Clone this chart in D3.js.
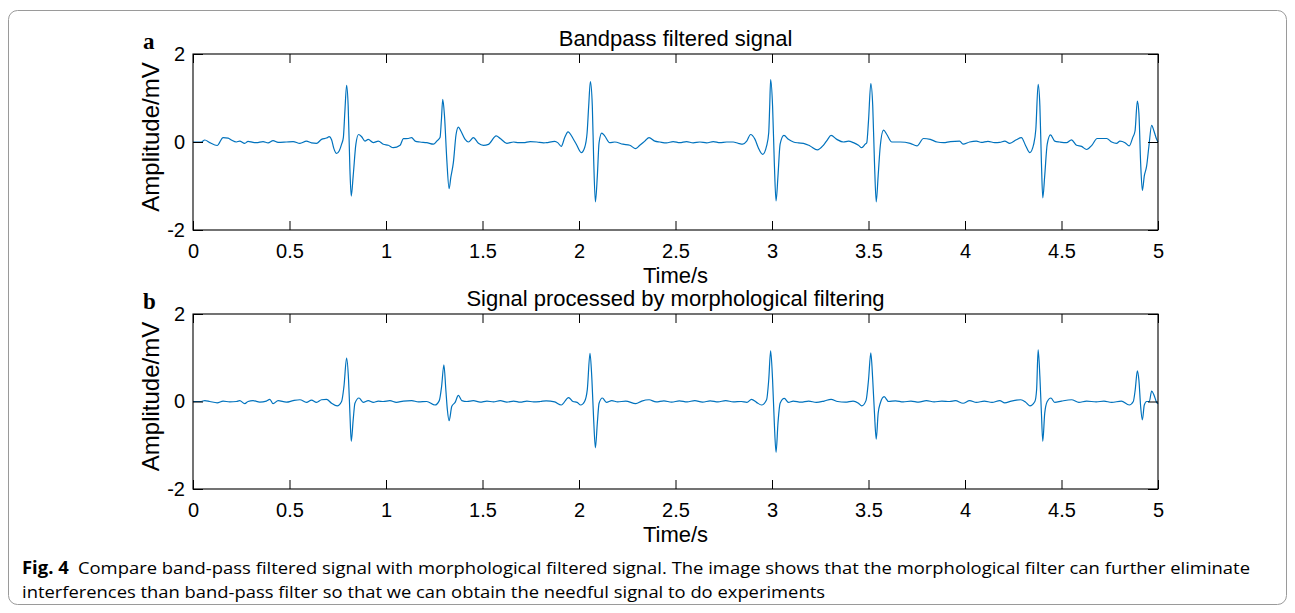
<!DOCTYPE html>
<html>
<head>
<meta charset="utf-8">
<script src="https://cdn.jsdelivr.net/npm/d3@7"></script>
<style>
  body { margin: 0; background: #fff; }
  svg { display: block; }
</style>
</head>
<body>
<svg id="fig" width="1295" height="613"></svg>
<script>
// tick values shared by both panels
const timeTicks = [0, 0.5, 1, 1.5, 2, 2.5, 3, 3.5, 4, 4.5, 5];
const ampTicks = [-2, 0, 2];

// [time s, amplitude mV]
const bandpassSignal = [
  [0.000, 0], [0.043, 0], [0.061, 0.045], [0.087, -0.015], [0.125, -0.08], [0.156, 0.10],
  [0.182, 0.09], [0.199, 0.045], [0.225, 0], [0.242, 0.02], [0.268, -0.03], [0.285, 0.015],
  [0.311, -0.01], [0.329, -0.015], [0.363, 0.01], [0.389, -0.02], [0.415, 0.03], [0.441, -0.01],
  [0.484, 0], [0.519, 0.01], [0.554, -0.03], [0.588, 0.02], [0.614, -0.02], [0.640, -0.03],
  [0.666, 0.06], [0.692, 0.09], [0.706, 0.12], [0.718, 0.05], [0.730, -0.15], [0.744, -0.26],
  [0.758, -0.20], [0.770, -0.05], [0.779, 0.10], [0.787, 0.70], [0.796, 1.29], [0.804, 0.82],
  [0.813, -0.62], [0.820, -1.23], [0.830, -0.77], [0.844, -0.05], [0.858, 0.17], [0.874, 0.12],
  [0.891, 0.02], [0.908, 0.06], [0.934, -0.015], [0.960, 0.02], [0.986, -0.05], [1.012, -0.075],
  [1.038, -0.13], [1.073, -0.075], [1.090, 0.075], [1.116, 0.08], [1.133, 0.10], [1.151, 0.02],
  [1.176, 0], [1.211, -0.015], [1.246, -0.05], [1.263, 0.02], [1.280, 0.10], [1.287, 0.50],
  [1.294, 0.97], [1.303, 0.60], [1.315, -0.40], [1.327, -1.06], [1.336, -0.80], [1.349, -0.47],
  [1.363, 0.17], [1.375, 0.34], [1.388, 0.25], [1.410, 0.06], [1.427, 0], [1.453, 0.10],
  [1.479, -0.03], [1.505, -0.075], [1.531, -0.055], [1.571, 0.14], [1.592, 0.08], [1.626, -0.03],
  [1.661, 0], [1.687, -0.015], [1.713, -0.015], [1.747, 0.01], [1.782, 0], [1.817, -0.02],
  [1.830, -0.015], [1.874, 0.015], [1.891, -0.02], [1.908, -0.10], [1.926, 0.10], [1.943, 0.23],
  [1.969, 0.08], [1.986, -0.05], [2.012, -0.24], [2.029, -0.13], [2.042, 0.21], [2.050, 0.80],
  [2.059, 1.37], [2.069, 0.82], [2.076, -0.39], [2.085, -1.36], [2.095, -0.77], [2.104, -0.015],
  [2.118, 0.20], [2.133, 0.14], [2.159, -0.015], [2.185, 0], [2.228, -0.05], [2.263, -0.075],
  [2.294, -0.15], [2.315, -0.075], [2.341, 0.02], [2.363, 0.10], [2.393, 0.02], [2.419, 0],
  [2.453, -0.02], [2.488, 0.01], [2.522, -0.015], [2.557, 0.01], [2.592, -0.02], [2.626, 0],
  [2.661, -0.02], [2.696, 0.01], [2.730, -0.015], [2.765, 0], [2.799, 0], [2.825, -0.03],
  [2.848, -0.05], [2.869, 0.02], [2.889, 0.17], [2.912, 0.06], [2.929, -0.13], [2.952, -0.28],
  [2.972, -0.09], [2.983, 0.21], [2.988, 0.80], [2.993, 1.42], [3.003, 0.82], [3.012, -0.47],
  [3.021, -1.34], [3.031, -0.77], [3.042, -0.05], [3.062, 0.15], [3.085, 0.06], [3.111, 0],
  [3.137, -0.02], [3.163, -0.03], [3.197, -0.09], [3.235, -0.18], [3.266, -0.075], [3.287, 0.05],
  [3.306, 0.15], [3.336, 0.06], [3.370, 0], [3.396, 0.02], [3.422, -0.015], [3.448, -0.075],
  [3.465, -0.13], [3.483, -0.05], [3.491, -0.015], [3.500, 0.48], [3.512, 1.33], [3.522, 0.82],
  [3.531, -0.47], [3.540, -1.36], [3.550, -0.77], [3.561, -0.09], [3.578, 0.27], [3.595, 0.17],
  [3.621, 0], [3.664, 0], [3.716, -0.03], [3.751, -0.09], [3.785, 0.08], [3.820, 0.06],
  [3.855, 0], [3.889, -0.015], [3.924, 0.01], [3.972, 0.02], [3.990, -0.05], [4.024, 0],
  [4.059, 0.02], [4.085, -0.01], [4.119, 0.015], [4.154, -0.015], [4.180, -0.01], [4.206, 0.02],
  [4.232, -0.03], [4.266, 0.05], [4.292, 0.10], [4.315, -0.09], [4.336, -0.24], [4.356, -0.05],
  [4.367, 0.29], [4.379, 1.31], [4.388, 0.82], [4.396, -0.47], [4.403, -1.27], [4.413, -0.77],
  [4.426, -0.05], [4.443, 0.16], [4.465, 0.02], [4.491, 0], [4.526, -0.015], [4.552, 0.05],
  [4.578, -0.075], [4.604, -0.10], [4.630, -0.17], [4.657, -0.075], [4.685, 0.08], [4.734, 0.08],
  [4.760, 0], [4.785, -0.03], [4.803, 0.02], [4.829, -0.015], [4.851, -0.09], [4.869, 0.10],
  [4.881, 0.25], [4.893, 0.93], [4.901, 0.66], [4.910, -0.47], [4.919, -1.10], [4.929, -0.77],
  [4.941, -0.55], [4.953, -0.09], [4.967, 0.38], [4.979, 0.25], [4.993, 0.06], [5.000, 0]
];

// [time s, amplitude mV]
const morphSignal = [
  [0.000, 0], [0.043, 0], [0.061, 0.02], [0.087, 0], [0.125, -0.03], [0.156, 0.01],
  [0.190, -0.01], [0.225, 0], [0.242, 0.02], [0.268, -0.05], [0.285, 0], [0.311, 0.02],
  [0.346, -0.015], [0.380, 0.01], [0.398, 0.05], [0.415, -0.05], [0.441, 0.02], [0.484, -0.015],
  [0.519, 0.02], [0.554, 0.04], [0.588, -0.02], [0.614, 0.03], [0.640, -0.02], [0.666, 0.04],
  [0.692, 0.05], [0.718, -0.04], [0.747, -0.10], [0.770, 0], [0.782, 0.34], [0.796, 0.99],
  [0.806, 0.49], [0.813, -0.27], [0.820, -0.91], [0.830, -0.42], [0.839, -0.04], [0.860, 0.08],
  [0.882, -0.02], [0.908, 0.02], [0.934, -0.02], [0.960, 0.01], [0.986, 0], [1.020, 0.02],
  [1.054, -0.02], [1.090, 0.01], [1.133, 0.02], [1.168, -0.01], [1.211, 0], [1.254, -0.08],
  [1.276, 0.02], [1.288, 0.34], [1.300, 0.84], [1.310, 0.27], [1.318, -0.19], [1.327, -0.44],
  [1.341, -0.11], [1.358, -0.02], [1.375, 0.14], [1.393, 0.02], [1.419, 0], [1.453, 0.02],
  [1.488, -0.015], [1.523, 0.01], [1.557, -0.01], [1.592, 0.02], [1.626, -0.015], [1.661, 0.01],
  [1.696, -0.015], [1.730, 0.01], [1.765, -0.01], [1.800, 0], [1.830, 0.015], [1.874, -0.01],
  [1.908, -0.08], [1.946, 0.09], [1.969, 0], [1.990, -0.02], [2.009, -0.08], [2.029, 0],
  [2.043, 0.27], [2.057, 1.10], [2.067, 0.49], [2.076, -0.42], [2.085, -1.06], [2.095, -0.49],
  [2.104, -0.04], [2.121, 0.08], [2.142, -0.02], [2.170, 0.02], [2.200, -0.01], [2.242, 0.01],
  [2.294, -0.05], [2.325, 0.01], [2.363, 0.04], [2.400, -0.01], [2.440, 0.015], [2.480, -0.015],
  [2.520, 0.015], [2.560, -0.01], [2.600, 0.02], [2.640, -0.015], [2.680, 0.015], [2.720, -0.01],
  [2.760, 0.02], [2.800, -0.01], [2.840, 0], [2.870, -0.02], [2.894, 0.05], [2.920, -0.02],
  [2.946, -0.08], [2.972, 0.04], [2.983, 0.49], [2.993, 1.16], [3.003, 0.49], [3.012, -0.49],
  [3.021, -1.16], [3.031, -0.49], [3.042, -0.04], [3.064, 0.07], [3.085, -0.02], [3.110, 0.01],
  [3.150, -0.015], [3.190, 0.01], [3.230, -0.02], [3.270, 0.01], [3.306, 0.05], [3.340, 0],
  [3.380, -0.015], [3.420, 0.01], [3.448, -0.04], [3.465, -0.10], [3.487, 0.02], [3.500, 0.49],
  [3.512, 1.11], [3.522, 0.49], [3.531, -0.27], [3.540, -0.86], [3.550, -0.27], [3.561, -0.04],
  [3.581, 0.11], [3.604, 0], [3.640, 0.015], [3.680, -0.01], [3.720, 0.01], [3.760, -0.015],
  [3.800, 0.02], [3.840, -0.01], [3.880, 0.01], [3.920, 0], [3.950, 0.02], [3.990, -0.04],
  [4.024, 0.02], [4.059, -0.02], [4.100, 0.01], [4.140, -0.02], [4.180, 0.02], [4.206, -0.03],
  [4.240, 0.01], [4.289, 0.04], [4.315, -0.02], [4.336, -0.10], [4.362, 0], [4.371, 0.27],
  [4.379, 1.18], [4.388, 0.57], [4.396, -0.27], [4.403, -0.91], [4.413, -0.27], [4.426, 0],
  [4.445, 0.08], [4.465, -0.02], [4.500, 0.01], [4.552, 0.04], [4.590, -0.02], [4.630, 0.01],
  [4.680, -0.01], [4.720, 0.01], [4.760, -0.02], [4.810, 0.01], [4.851, -0.08], [4.872, 0],
  [4.882, 0.27], [4.893, 0.70], [4.901, 0.49], [4.910, -0.11], [4.919, -0.42], [4.929, -0.08],
  [4.941, 0], [4.955, 0], [4.967, 0.24], [4.979, 0.15], [4.993, -0.02], [5.000, -0.05]
];

const sans = "'Liberation Sans', Arial, sans-serif";
const svg = d3.select("#fig");

// figure frame
svg.append("rect")
  .attr("x", 8.5).attr("y", 10.5)
  .attr("width", 1278).attr("height", 594)
  .attr("rx", 9)
  .attr("fill", "none")
  .attr("stroke", "#9a9a9a");

const x = d3.scaleLinear().domain([0, 5]).range([193, 1158]);

// draws one subplot, MATLAB style box with inward ticks
function drawPanel(top, bottom, data, title, letter) {
  const y = d3.scaleLinear().domain([-2, 2]).range([bottom, top]);
  const g = svg.append("g");

  const line = d3.line()
    .x(d => x(d[0]))
    .y(d => y(d[1]))
    .curve(d3.curveMonotoneX);

  g.append("path")
    .datum(data)
    .attr("d", line)
    .attr("fill", "none")
    .attr("stroke", "#0072BD")
    .attr("stroke-width", 1.2);

  g.append("g")
    .attr("transform", `translate(0,${bottom})`)
    .call(d3.axisBottom(x).tickValues(timeTicks).tickSizeInner(-9).tickSizeOuter(0)
      .tickPadding(14).tickFormat(d => String(d)));
  g.append("g")
    .attr("transform", `translate(0,${top})`)
    .call(d3.axisTop(x).tickValues(timeTicks).tickSizeInner(-9).tickSizeOuter(0).tickFormat(""));
  g.append("g")
    .attr("transform", `translate(${x(0)},0)`)
    .call(d3.axisLeft(y).tickValues(ampTicks).tickSizeInner(-10).tickSizeOuter(0)
      .tickPadding(8).tickFormat(d => String(d)));
  g.append("g")
    .attr("transform", `translate(${x(5)},0)`)
    .call(d3.axisRight(y).tickValues(ampTicks).tickSizeInner(-10).tickSizeOuter(0).tickFormat(""));

  g.selectAll(".domain").remove();
  g.selectAll(".tick line").attr("stroke", "#000");
  g.selectAll(".tick text")
    .style("font-family", sans)
    .style("font-size", "20px")
    .attr("fill", "#000");

  g.append("rect")
    .attr("x", x(0)).attr("y", top)
    .attr("width", x(5) - x(0)).attr("height", bottom - top)
    .attr("fill", "none")
    .attr("stroke", "#000")
    .attr("stroke-width", 1.1);

  g.append("text")
    .attr("x", (x(0) + x(5)) / 2).attr("y", top - 8)
    .attr("text-anchor", "middle")
    .style("font-family", sans).style("font-size", "22px")
    .text(title);

  g.append("text")
    .attr("x", (x(0) + x(5)) / 2).attr("y", bottom + 53)
    .attr("text-anchor", "middle")
    .style("font-family", sans).style("font-size", "22px")
    .text("Time/s");

  g.append("text")
    .attr("transform", `translate(159,${(top + bottom) / 2 - 5}) rotate(-90)`)
    .attr("text-anchor", "middle")
    .style("font-family", sans).style("font-size", "24px")
    .text("Amplitude/mV");

  g.append("text")
    .attr("x", 143).attr("y", top - 5)
    .style("font-family", "'Liberation Serif', 'DejaVu Serif', serif")
    .style("font-weight", "bold")
    .style("font-size", "23px")
    .text(letter);
}

drawPanel(54, 230, bandpassSignal, "Bandpass filtered signal", "a");
drawPanel(314, 489, morphSignal, "Signal processed by morphological filtering", "b");

// caption
const capFont = "'Open Sans', 'Noto Sans', sans-serif";
const cap1 = svg.append("text")
  .attr("x", 22).attr("y", 574)
  .style("font-family", capFont).style("font-size", "17px")
  .attr("textLength", 1228)
  .attr("lengthAdjust", "spacingAndGlyphs");
cap1.append("tspan").style("font-weight", "bold").text("Fig. 4");
cap1.append("tspan").text("\u2002Compare band-pass filtered signal with morphological filtered signal. The image shows that the morphological filter can further eliminate");

svg.append("text")
  .attr("x", 22).attr("y", 598)
  .style("font-family", capFont).style("font-size", "17px")
  .attr("textLength", 803)
  .attr("lengthAdjust", "spacingAndGlyphs")
  .text("interferences than band-pass filter so that we can obtain the needful signal to do experiments");
</script>
</body>
</html>
